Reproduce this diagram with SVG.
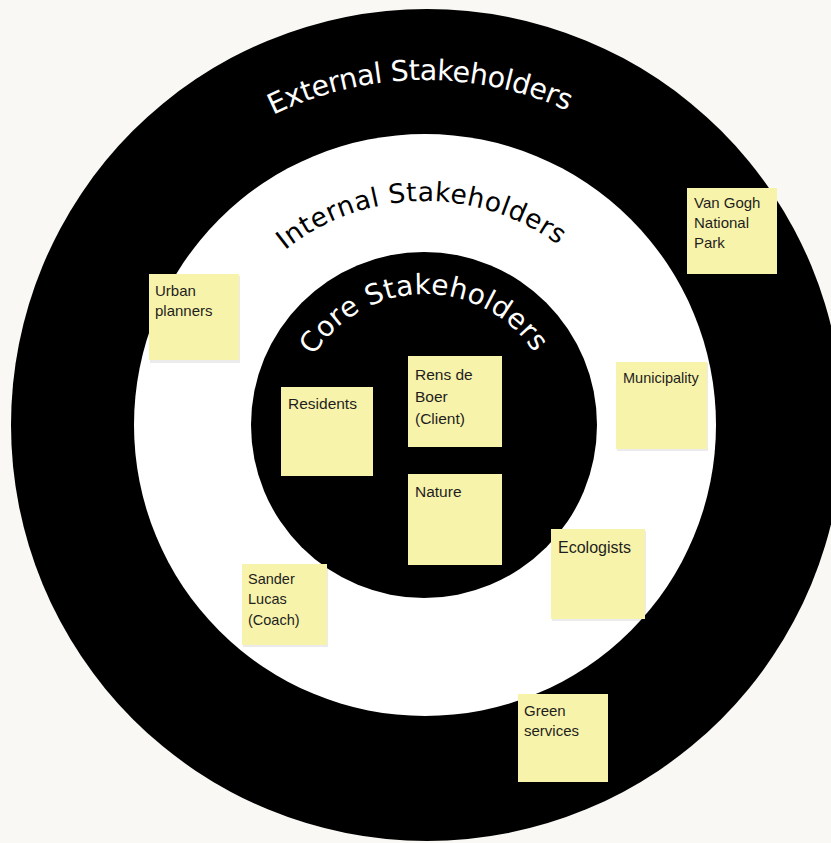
<svg xmlns="http://www.w3.org/2000/svg" width="831" height="843" viewBox="0 0 831 843">
<style>
.ring-title{font-family:"DejaVu Sans","Noto Sans",sans-serif;font-weight:400}
.note rect.paper{fill:#f8f3aa}
.note rect.shadow{fill:#000;opacity:0.08}
.note text{font-family:"Liberation Sans",Arial,sans-serif;fill:#1e1e1e}
</style>
<defs>
<path id="arcExt" d="M273.2,115.2 A345,345 0 0 1 571.9,112.8"/>
<path id="arcInt" d="M285,250.2 A224,224 0 0 1 562,247.8"/>
<path id="arcCore" d="M313.7,356 A131,131 0 0 1 536.8,356.7"/>
</defs>
<rect width="831" height="843" fill="#f9f8f4"/>
<g id="rings">
<circle id="external" cx="427" cy="425" r="416" fill="#000"/>
<circle id="internal" cx="425" cy="425" r="291" fill="#fff"/>
<circle id="core" cx="424" cy="425" r="173" fill="#000"/>
</g>
<g id="ring-labels">
<text class="ring-title" font-size="28.5" fill="#fff"><textPath href="#arcExt" textLength="304" lengthAdjust="spacing">External Stakeholders</textPath></text>
<text class="ring-title" font-size="26.5" fill="#000"><textPath href="#arcInt" textLength="294" lengthAdjust="spacing">Internal Stakeholders</textPath></text>
<text class="ring-title" font-size="28" fill="#fff"><textPath href="#arcCore" textLength="262" lengthAdjust="spacing">Core Stakeholders</textPath></text>
</g>
<g id="connectors"></g>
<g id="urban-planners" class="note">
<rect class="shadow" x="150" y="276" width="90" height="87"/>
<rect class="paper" x="149" y="274" width="90" height="86"/>
<text font-size="15"><tspan x="155" y="296">Urban</tspan><tspan x="155" y="316">planners</tspan></text>
</g>
<g id="van-gogh" class="note">
<rect class="paper" x="687" y="188" width="90" height="86"/>
<text font-size="15"><tspan x="694" y="208">Van Gogh</tspan><tspan x="694" y="228">National</tspan><tspan x="694" y="248">Park</tspan></text>
</g>
<g id="residents" class="note">
<rect class="paper" x="281" y="387" width="92" height="89"/>
<text font-size="15.5"><tspan x="288" y="409">Residents</tspan></text>
</g>
<g id="rens-de-boer" class="note">
<rect class="paper" x="408" y="356" width="94" height="91"/>
<text font-size="15.5"><tspan x="415" y="380">Rens de</tspan><tspan x="415" y="402">Boer</tspan><tspan x="415" y="424">(Client)</tspan></text>
</g>
<g id="nature" class="note">
<rect class="paper" x="408" y="474" width="94" height="91"/>
<text font-size="15.5"><tspan x="415" y="497">Nature</tspan></text>
</g>
<g id="municipality" class="note">
<rect class="shadow" x="617" y="363" width="91" height="88"/>
<rect class="paper" x="616" y="362" width="91" height="87"/>
<text font-size="14.5"><tspan x="623" y="383">Municipality</tspan></text>
</g>
<g id="ecologists" class="note">
<rect class="shadow" x="552" y="531" width="94" height="90"/>
<rect class="paper" x="551" y="529" width="94" height="90"/>
<text font-size="16"><tspan x="558" y="553">Ecologists</tspan></text>
</g>
<g id="sander-lucas" class="note">
<rect class="shadow" x="243" y="566" width="85" height="81"/>
<rect class="paper" x="242" y="564" width="85" height="81"/>
<text font-size="14.5"><tspan x="248" y="584">Sander</tspan><tspan x="248" y="604">Lucas</tspan><tspan x="248" y="625">(Coach)</tspan></text>
</g>
<g id="green-services" class="note">
<rect class="paper" x="518" y="694" width="90" height="88"/>
<text font-size="15"><tspan x="524" y="716">Green</tspan><tspan x="524" y="736">services</tspan></text>
</g>
</svg>
